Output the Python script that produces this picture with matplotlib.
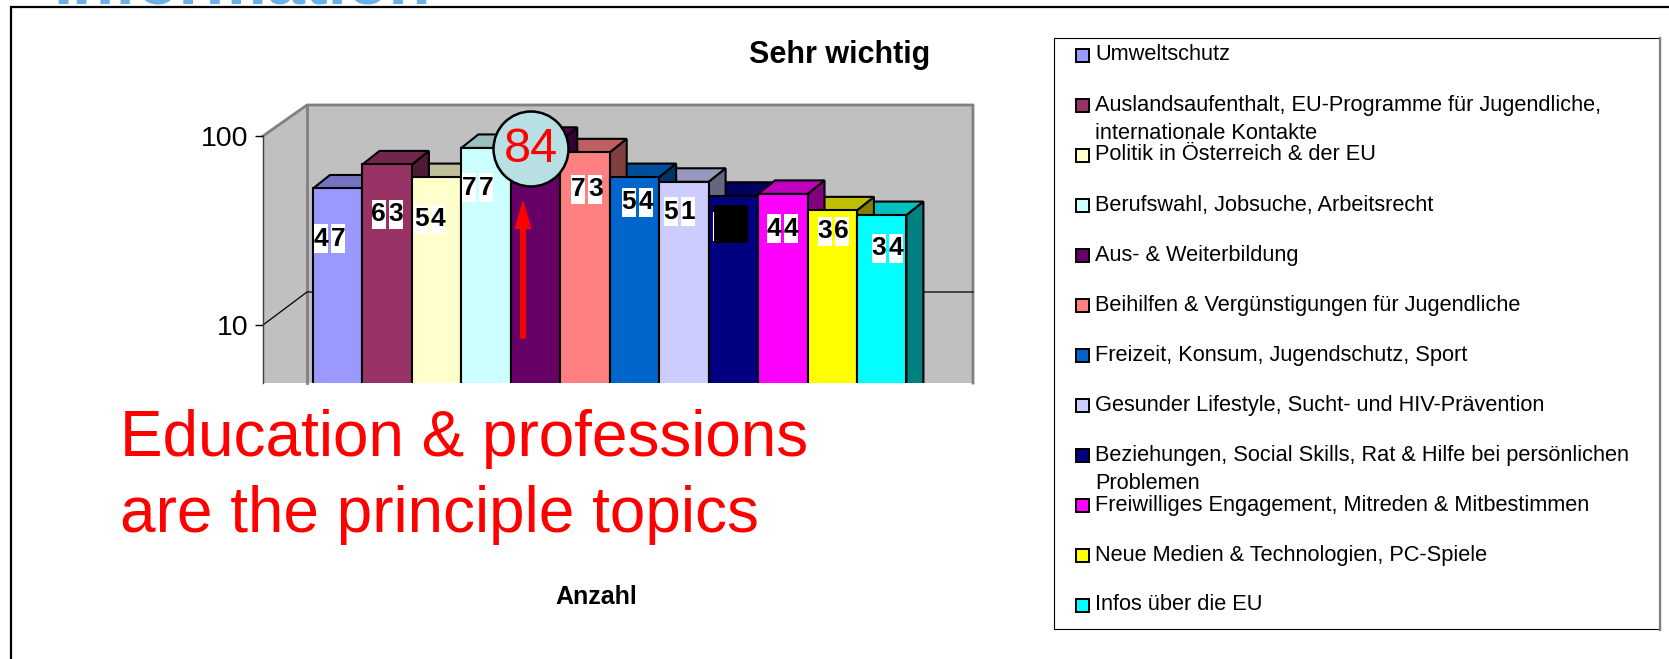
import matplotlib
matplotlib.use("Agg")
import matplotlib.pyplot as plt
from matplotlib.patches import Polygon, Rectangle, Circle
from matplotlib.path import Path
import numpy as np

plt.rcParams['font.family'] = ['Liberation Sans', 'DejaVu Sans']

# ---- data ----
values = [47, 63, 54, 77, 84, 73, 54, 51, 43, 44, 36, 34]
categories = [
    "Umweltschutz",
    "Auslandsaufenthalt, EU-Programme für Jugendliche,\ninternationale Kontakte",
    "Politik in Österreich & der EU",
    "Berufswahl, Jobsuche, Arbeitsrecht",
    "Aus- & Weiterbildung",
    "Beihilfen & Vergünstigungen für Jugendliche",
    "Freizeit, Konsum, Jugendschutz, Sport",
    "Gesunder Lifestyle, Sucht- und HIV-Prävention",
    "Beziehungen, Social Skills, Rat & Hilfe bei persönlichen\nProblemen",
    "Freiwilliges Engagement, Mitreden & Mitbestimmen",
    "Neue Medien & Technologien, PC-Spiele",
    "Infos über die EU",
]
y_ticks = [10, 100]

# ---- styles ----
front_colors = ['#9999FF', '#993366', '#FFFFCC', '#CCFFFF', '#660066', '#FF8080',
                '#0066CC', '#CCCCFF', '#000080', '#FF00FF', '#FFFF00', '#00FFFF']
label_offsets = [(-8, 50.5), (0, 49.6), (-7, 42), (-8.5, 40), None, (2, 37),
                 (3, 25), (-4.5, 30), (-3, 28), (0, 35), (1, 21), (5.5, 33)]
W, H = 1669, 659
DX, DY = 17, 13.5
LINE = 1.5


def shade(c, f):
    rgb = np.array(matplotlib.colors.to_rgb(c))
    return tuple(rgb * f)


def fixed_box(half_w, half_h):
    """Text box style of a fixed size in pixels, centred on the text."""
    def style(x0, y0, width, height, mutation_size):
        cx, cy = x0 + width / 2, y0 + height / 2
        return Path([(cx - half_w, cy - half_h), (cx + half_w, cy - half_h),
                     (cx + half_w, cy + half_h), (cx - half_w, cy + half_h),
                     (cx - half_w, cy - half_h)], closed=True)
    return style


fig = plt.figure(figsize=(W / 100, H / 100), dpi=100, facecolor='white')


def rect_axes(x0, y0, x1, y1, **kw):
    return fig.add_axes([x0 / W, 1 - y1 / H, (x1 - x0) / W, (y1 - y0) / H], **kw)


back = rect_axes(0, 0, W, H, zorder=0)
back.set_xlim(0, W); back.set_ylim(H, 0); back.axis('off')
front = rect_axes(0, 0, W, H, zorder=5)
front.set_xlim(0, W); front.set_ylim(H, 0); front.axis('off')

# outer frame (no bottom edge in the crop) and the cut-off slide heading
back.plot([11, 11, W], [H, 7, 7], color='black', lw=1.6, solid_joinstyle='miter')
back.text(53, 3, "Information", color='#6CB0E8', fontsize=49.5, fontweight='bold',
          va='baseline', ha='left', clip_on=True)

# 3-D walls
WALL_BOTTOM = 383
back.add_patch(Polygon([(263, 136), (307, 105), (307, WALL_BOTTOM), (263, WALL_BOTTOM)],
                       fc='#C0C0C0', ec='none'))
back.add_patch(Rectangle((307, 105), 666, WALL_BOTTOM - 105, fc='#C0C0C0', ec='none'))
back.plot([263, 307, 973, 973], [136, 105, 105, WALL_BOTTOM], color='#808080', lw=2,
          solid_joinstyle='miter')
back.plot([307, 307], [105, WALL_BOTTOM], color='#808080', lw=2)
back.plot([263, 307, 973], [325, 292, 292], color='black', lw=0.9)

# left axis, a real log axis at the front of the side wall
ay = rect_axes(263, 136, 264, WALL_BOTTOM, zorder=1, facecolor='none')
ay.set_yscale('log')
ay.set_ylim(10 ** (2 - (WALL_BOTTOM - 136) / 189), 100)
ay.set_xticks([])
ay.set_yticks(y_ticks, [str(t) for t in y_ticks])
ay.minorticks_off()
ay.tick_params(axis='y', labelsize=20.5, length=5.5, width=1, color='black', pad=5)
for s in ['top', 'right', 'bottom']:
    ay.spines[s].set_visible(False)
ay.spines['left'].set_color('#404040')
ay.spines['left'].set_linewidth(1.0)

# main bars, on a log axis
ax = rect_axes(263, 105, 973, WALL_BOTTOM, zorder=2, facecolor='none')
ax.set_yscale('log')
ax.set_ylim(10 ** (2 - (WALL_BOTTOM - 126.5) / 189), 10 ** (2 + 21.5 / 189))
ax.set_xlim(-0.5 - 50 / 49.45, -0.5 + 660 / 49.45)
ax.axis('off')
low = ax.get_ylim()[0]
below = low * 0.8
x = np.arange(len(values))
bars = ax.bar(x, np.array(values) - below, bottom=below, width=1.0, color=front_colors,
              edgecolor='black', linewidth=LINE, zorder=10)


def to_px(xv, yv):
    return fig.transFigure.inverted().transform(ax.transData.transform((xv, yv))) * [W, -H] + [0, H]


# depth faces: lower bars first, so the taller neighbour covers them
for rank, i in enumerate(np.argsort(values, kind='stable')):
    v = values[i]
    xl, yt = to_px(i - 0.5, v)
    xr, _ = to_px(i + 0.5, v)
    _, yb = to_px(i, low)
    top = [(xl, yt), (xr, yt), (xr + DX, yt - DY), (xl + DX, yt - DY)]
    side = [(xr, yt), (xr + DX, yt - DY), (xr + DX, yb + 5), (xr, yb + 5)]
    kw = dict(ec='black', lw=LINE, transform=back.transData, zorder=2 + rank * 0.1,
              joinstyle='miter')
    ax.add_patch(Polygon(side, fc=shade(front_colors[i], 0.5), **kw))
    ax.add_patch(Polygon(top, fc=shade(front_colors[i], 0.75), **kw))

# value labels: one white box per digit; the ninth is a solid black block
for i, (v, off) in enumerate(zip(values, label_offsets)):
    if off is None:
        continue
    if i == 8:
        ax.annotate(str(v), xy=(i, v), xycoords='data',
                    xytext=(off[0] * 0.72, -off[1] * 0.72),
                    textcoords='offset points', ha='center', va='center',
                    fontsize=19, fontweight='bold', color='black', zorder=20,
                    annotation_clip=False,
                    bbox=dict(boxstyle=fixed_box(17.5, 19), fc='black', ec='none'))
        continue
    for k, ch in enumerate(str(v)):
        ax.annotate(ch, xy=(i, v), xycoords='data',
                    xytext=((off[0] + (k - 0.5) * 17) * 0.72, -off[1] * 0.72),
                    textcoords='offset points', ha='center', va='center',
                    fontsize=19, fontweight='bold', color='black', zorder=20,
                    annotation_clip=False,
                    bbox=dict(boxstyle=fixed_box(7, 14.5), fc='white', ec='none'))
front.plot([713, 713], [212, 240], color='white', lw=0.8)

# highlighted bar: arrow and circled value
front.annotate('', xy=(523, 202), xytext=(523, 338),
               arrowprops=dict(fc='red', ec='red', width=3.2, headwidth=11, headlength=19, shrink=0))
front.add_patch(Circle((531, 149), 37.5, fc='#B8DFE3', ec='black', lw=1.8))
front.text(531, 150, str(values[4]), color='red', fontsize=35, ha='center', va='center')

# texts
front.text(840, 55, "Sehr wichtig", fontsize=22, fontweight='bold', ha='center', va='center')
front.text(596, 597, "Anzahl", fontsize=18, fontweight='bold', ha='center', va='center')
front.text(120, 456, "Education & professions", color='red', fontsize=46, ha='left', va='baseline')
front.text(120, 532, "are the principle topics", color='red', fontsize=46, ha='left', va='baseline')

# legend
front.add_patch(Rectangle((1054, 38), 606, 591, fc='white', ec='black', lw=0.8, zorder=1))
front.plot([1660, 1660], [38, 630], color='#808080', lw=1.6, zorder=1.5)
for i, (name, c) in enumerate(zip(categories, front_colors)):
    yc = 55 + i * 50
    front.add_patch(Rectangle((1076, yc - 6), 13, 13, fc=c, ec='black', lw=1.4, zorder=2))
    for j, line in enumerate(name.split('\n')):
        front.text(1095, yc + j * 28.5, line, fontsize=15.7, ha='left', va='center', zorder=3)

fig.savefig('out.png', dpi=100)
